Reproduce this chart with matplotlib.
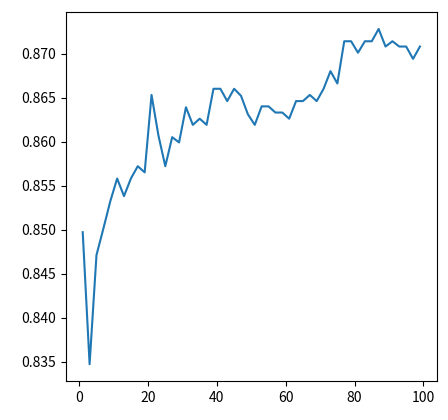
import matplotlib
matplotlib.use("Agg")
import matplotlib.pyplot as plt

plt.rcParams['font.family'] = ['Noto Sans CJK JP', 'DejaVu Sans']

# epochs and score per epoch
epochs = list(range(1, 100, 2))
scores = [0.8497, 0.8347, 0.8471, 0.8501, 0.8532, 0.8558, 0.8538, 0.8558, 0.8572, 0.8565,
          0.8653, 0.8607, 0.8572, 0.8605, 0.8599, 0.8639, 0.8619, 0.8626, 0.8619, 0.8660,
          0.8660, 0.8646, 0.8660, 0.8652, 0.8631, 0.8619, 0.8640, 0.8640, 0.8633, 0.8633,
          0.8626, 0.8646, 0.8646, 0.8653, 0.8646, 0.8660, 0.8680, 0.8666, 0.8714, 0.8714,
          0.8701, 0.8714, 0.8714, 0.8728, 0.8708, 0.8714, 0.8708, 0.8708, 0.8694, 0.8708]

fig = plt.figure(figsize=(4.48, 4.2), dpi=100)
ax = fig.add_subplot(111)
ax.plot(epochs, scores, color='#1f77b4', linewidth=1.5)
ax.set_xticks([0, 20, 40, 60, 80, 100])
ax.yaxis.set_major_formatter(matplotlib.ticker.FormatStrFormatter('%.3f'))

fig.subplots_adjust(left=0.147, right=0.975, top=0.971, bottom=0.093)
fig.savefig('out.png', dpi=100)
